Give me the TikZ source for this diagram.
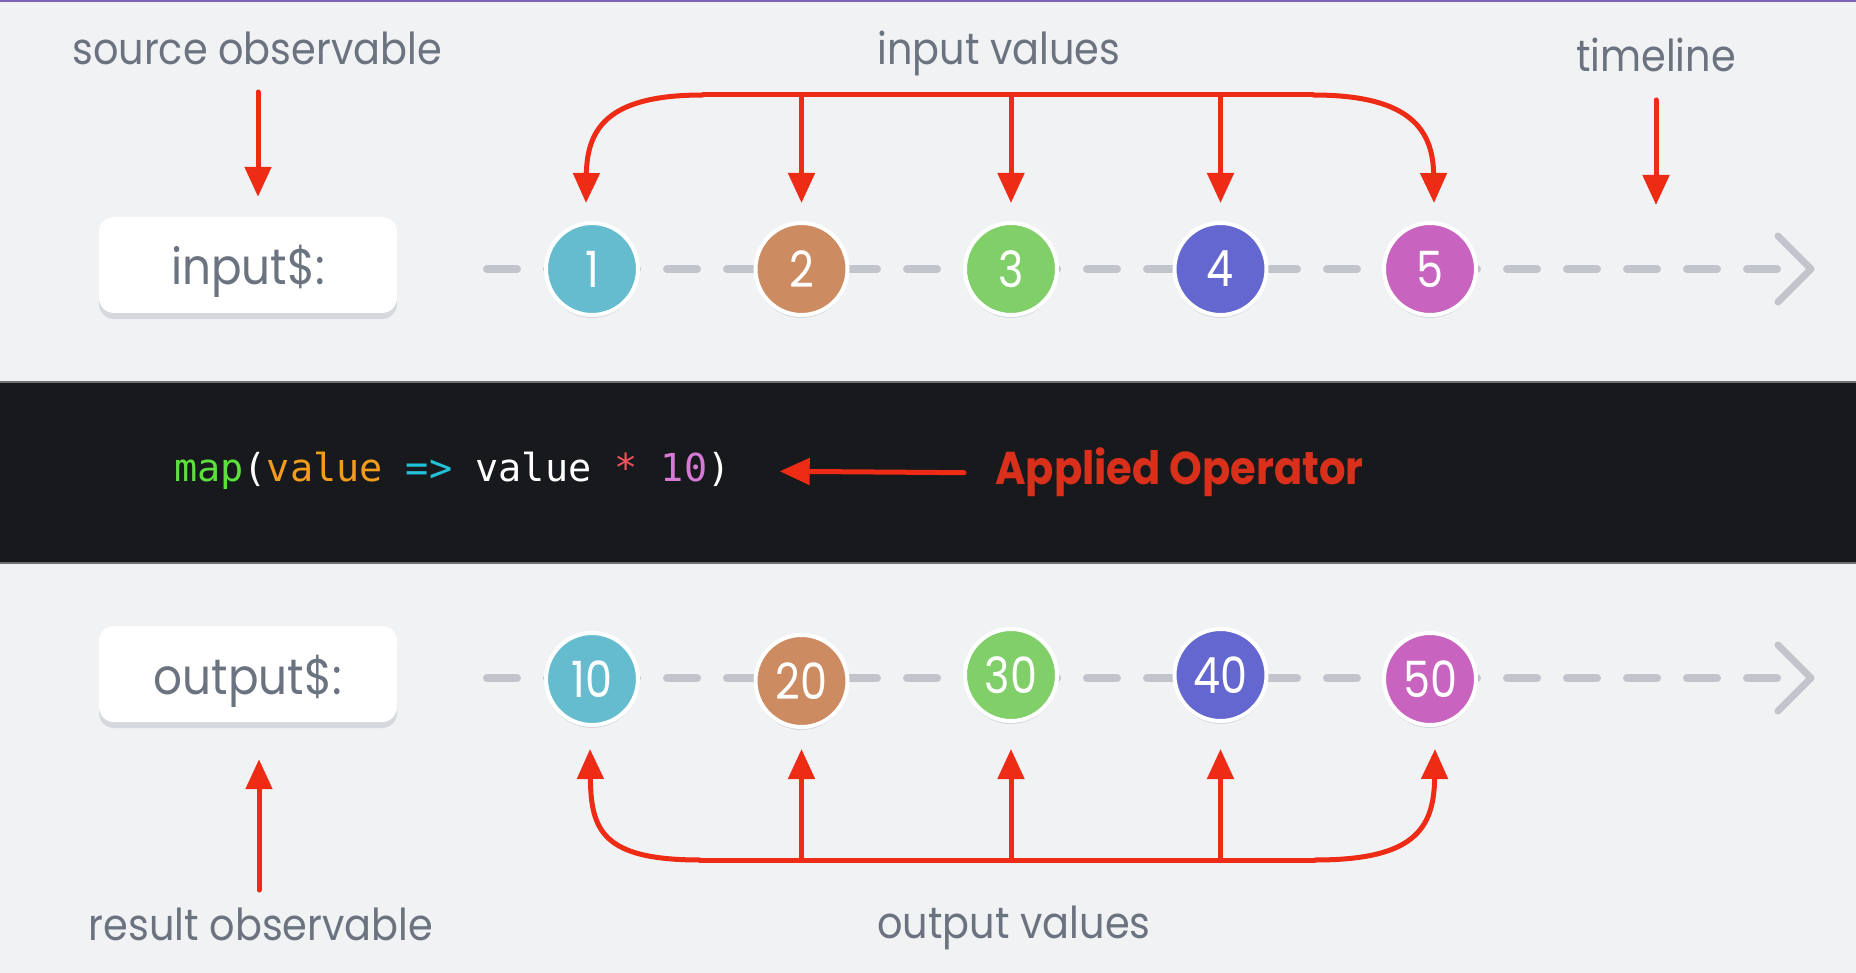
\documentclass[tikz,border=0pt]{standalone}
\usepackage{fontspec}
\setmainfont{Poppins}
\newfontfamily\lblfont[FakeStretch=0.905]{Poppins}
\newfontfamily\numfont[FakeStretch=0.86]{Poppins}
\newfontfamily\codefont{DejaVu Sans Mono}
\usetikzlibrary{arrows.meta,shadows}
\definecolor{bgc}{HTML}{F1F2F4}
\definecolor{bandc}{HTML}{18191D}
\definecolor{bandline}{HTML}{6E7074}
\definecolor{topline}{HTML}{8062B8}
\definecolor{graytxt}{HTML}{6C7380}
\definecolor{dashc}{HTML}{C1C4CB}
\definecolor{shadowc}{HTML}{D5D8DD}
\definecolor{redc}{HTML}{EE2B14}
\definecolor{appliedc}{HTML}{D9301C}
\definecolor{mc1}{HTML}{65BCCF}
\definecolor{mc2}{HTML}{CD8B62}
\definecolor{mc3}{HTML}{80CF69}
\definecolor{mc4}{HTML}{6467CF}
\definecolor{mc5}{HTML}{C863BF}
\definecolor{kgreen}{HTML}{5BE03C}
\definecolor{korange}{HTML}{F29C1B}
\definecolor{kcyan}{HTML}{22C3DA}
\definecolor{kred}{HTML}{F2525C}
\definecolor{kpink}{HTML}{D67AD4}
\begin{document}
\begin{tikzpicture}[x=1pt,y=-1pt,
  lbl/.style={anchor=base,inner sep=0pt,text=graytxt,font=\fontsize{44}{50}\lblfont},
  obsbox/.style={rounded corners=15pt,fill=white,minimum width=298pt,minimum height=96pt,
    text=graytxt,font=\fontsize{50}{56}\lblfont,text height=46pt,text depth=6pt,
    drop shadow={shadow xshift=0pt,shadow yshift=-6pt,fill=shadowc,opacity=1}},
  marble/.style={circle,draw=white,line width=4pt,minimum size=92pt,inner sep=0pt,
    text=white,font=\fontsize{50}{54}\numfont,
    drop shadow={shadow xshift=0pt,shadow yshift=-3pt,fill=shadowc,opacity=1}},
  timeline/.style={draw=dashc,line width=8pt,line cap=round,dash pattern=on 30pt off 30pt},
  chev/.style={draw=dashc,line width=7pt,line cap=round,line join=round},
  redline/.style={draw=redc,line width=5pt,line cap=round},
  redarr/.style={redline,-{Triangle[length=30pt,width=26pt]}}
]
\useasboundingbox (0,0) rectangle (1856,973);
\fill[bgc] (0,0) rectangle (1856,973);
\fill[topline] (0,0) rectangle (1856,2.5);
% dark band
\fill[bandc] (0,382) rectangle (1856,563);
\draw[bandline,line width=1.5pt] (0,382) -- (1856,382);
\draw[bandline,line width=1.5pt] (0,563) -- (1856,563);

% timelines
\coordinate (tlA) at (487,269);
\coordinate (tlB) at (1796,269);
\coordinate (tlC) at (487,678);
\coordinate (tlD) at (1796,678);
\draw[timeline] (tlA) -- (tlB);
\draw[timeline] (tlC) -- (tlD);
\draw[chev] (1778,236) -- (1811,269) -- (1778,302);
\draw[chev] (1778,645) -- (1811,678) -- (1778,711);

% observable boxes
\node[obsbox] (inbox) at (248,265) {input\$:};
\node[obsbox] (outbox) at (248,674) {output\$:};

% input marbles
\node[marble,fill=mc1] (i1) at (592,269) {1};
\node[marble,fill=mc2] (i2) at (801.5,269) {2};
\node[marble,fill=mc3] (i3) at (1011,269) {3};
\node[marble,fill=mc4] (i4) at (1220.5,269) {4};
\node[marble,fill=mc5] (i5) at (1430,269) {5};

% output marbles
\node[marble,fill=mc1] (o1) at (592,679) {10};
\node[marble,fill=mc2] (o2) at (801.5,681) {20};
\node[marble,fill=mc3] (o3) at (1011,675) {30};
\node[marble,fill=mc4] (o4) at (1220.5,675) {40};
\node[marble,fill=mc5] (o5) at (1430,679) {50};

% labels
\node[lbl] (srclbl) at (257,65) {source observable};
\node[lbl] (invals) at (999,65) {input values};
\node[lbl] (tllbl) at (1656,72) {timeline};
\node[lbl] (reslbl) at (261,940) {result observable};
\node[lbl] (outvals) at (1014,938) {output values};

% code band
\node[anchor=base west,inner sep=0pt,font=\fontsize{38.5}{44}\codefont] (code) at (174,482)
  {\textcolor{kgreen}{map}\textcolor{white}{(}\textcolor{korange}{value}\ \textcolor{kcyan}{=>}\ \textcolor{white}{value}\ \textcolor{kred}{*}\ \textcolor{kpink}{10}\textcolor{white}{)}};
\node[anchor=base west,inner sep=0pt,text=appliedc,font=\fontsize{46}{52}\bfseries\lblfont] (applied) at (995,485) {Applied Operator};
\draw[redarr] ([xshift=-31pt]applied.west) -- ([xshift=49pt]code.east);

% source / timeline arrows
\coordinate (srcTop) at (258,92);
\draw[redarr] (srcTop) -- ([xshift=10pt,yshift=20pt]inbox.north);
\coordinate (tlTop) at (1656,100);
\coordinate (tlTip) at (1656,205);
\draw[redarr] (tlTop) -- (tlTip);

% input values bracket
\coordinate (brL) at (703,95);
\coordinate (brR) at (1313,95);
\draw[redline] (brL) -- (brR);
\draw[redarr] (brL) .. controls (612,95) and (587,125) .. ([xshift=-6pt,yshift=18pt]i1.north);
\draw[redarr] (i2 |- brL) -- ([yshift=18pt]i2.north);
\draw[redarr] (i3 |- brL) -- ([yshift=18pt]i3.north);
\draw[redarr] (i4 |- brL) -- ([yshift=18pt]i4.north);
\draw[redarr] (brR) .. controls (1404,95) and (1433,125) .. ([xshift=4pt,yshift=18pt]i5.north);

% output values bracket
\coordinate (bbL) at (700,860);
\coordinate (bbR) at (1315,860);
\draw[redline] (bbL) -- (bbR);
\draw[redarr] (bbL) .. controls (602,860) and (591,830) .. ([xshift=-2pt,yshift=-22pt]o1.south);
\draw[redarr] (o2 |- bbL) -- ([yshift=-20pt]o2.south);
\draw[redarr] (o3 |- bbL) -- ([yshift=-26pt]o3.south);
\draw[redarr] (o4 |- bbL) -- ([yshift=-26pt]o4.south);
\draw[redarr] (bbR) .. controls (1413,860) and (1434,830) .. ([xshift=5pt,yshift=-22pt]o5.south);

% result arrow
\coordinate (resBot) at (259,890);
\draw[redarr] (resBot) -- ([xshift=11pt,yshift=-37pt]outbox.south);
\end{tikzpicture}
\end{document}
